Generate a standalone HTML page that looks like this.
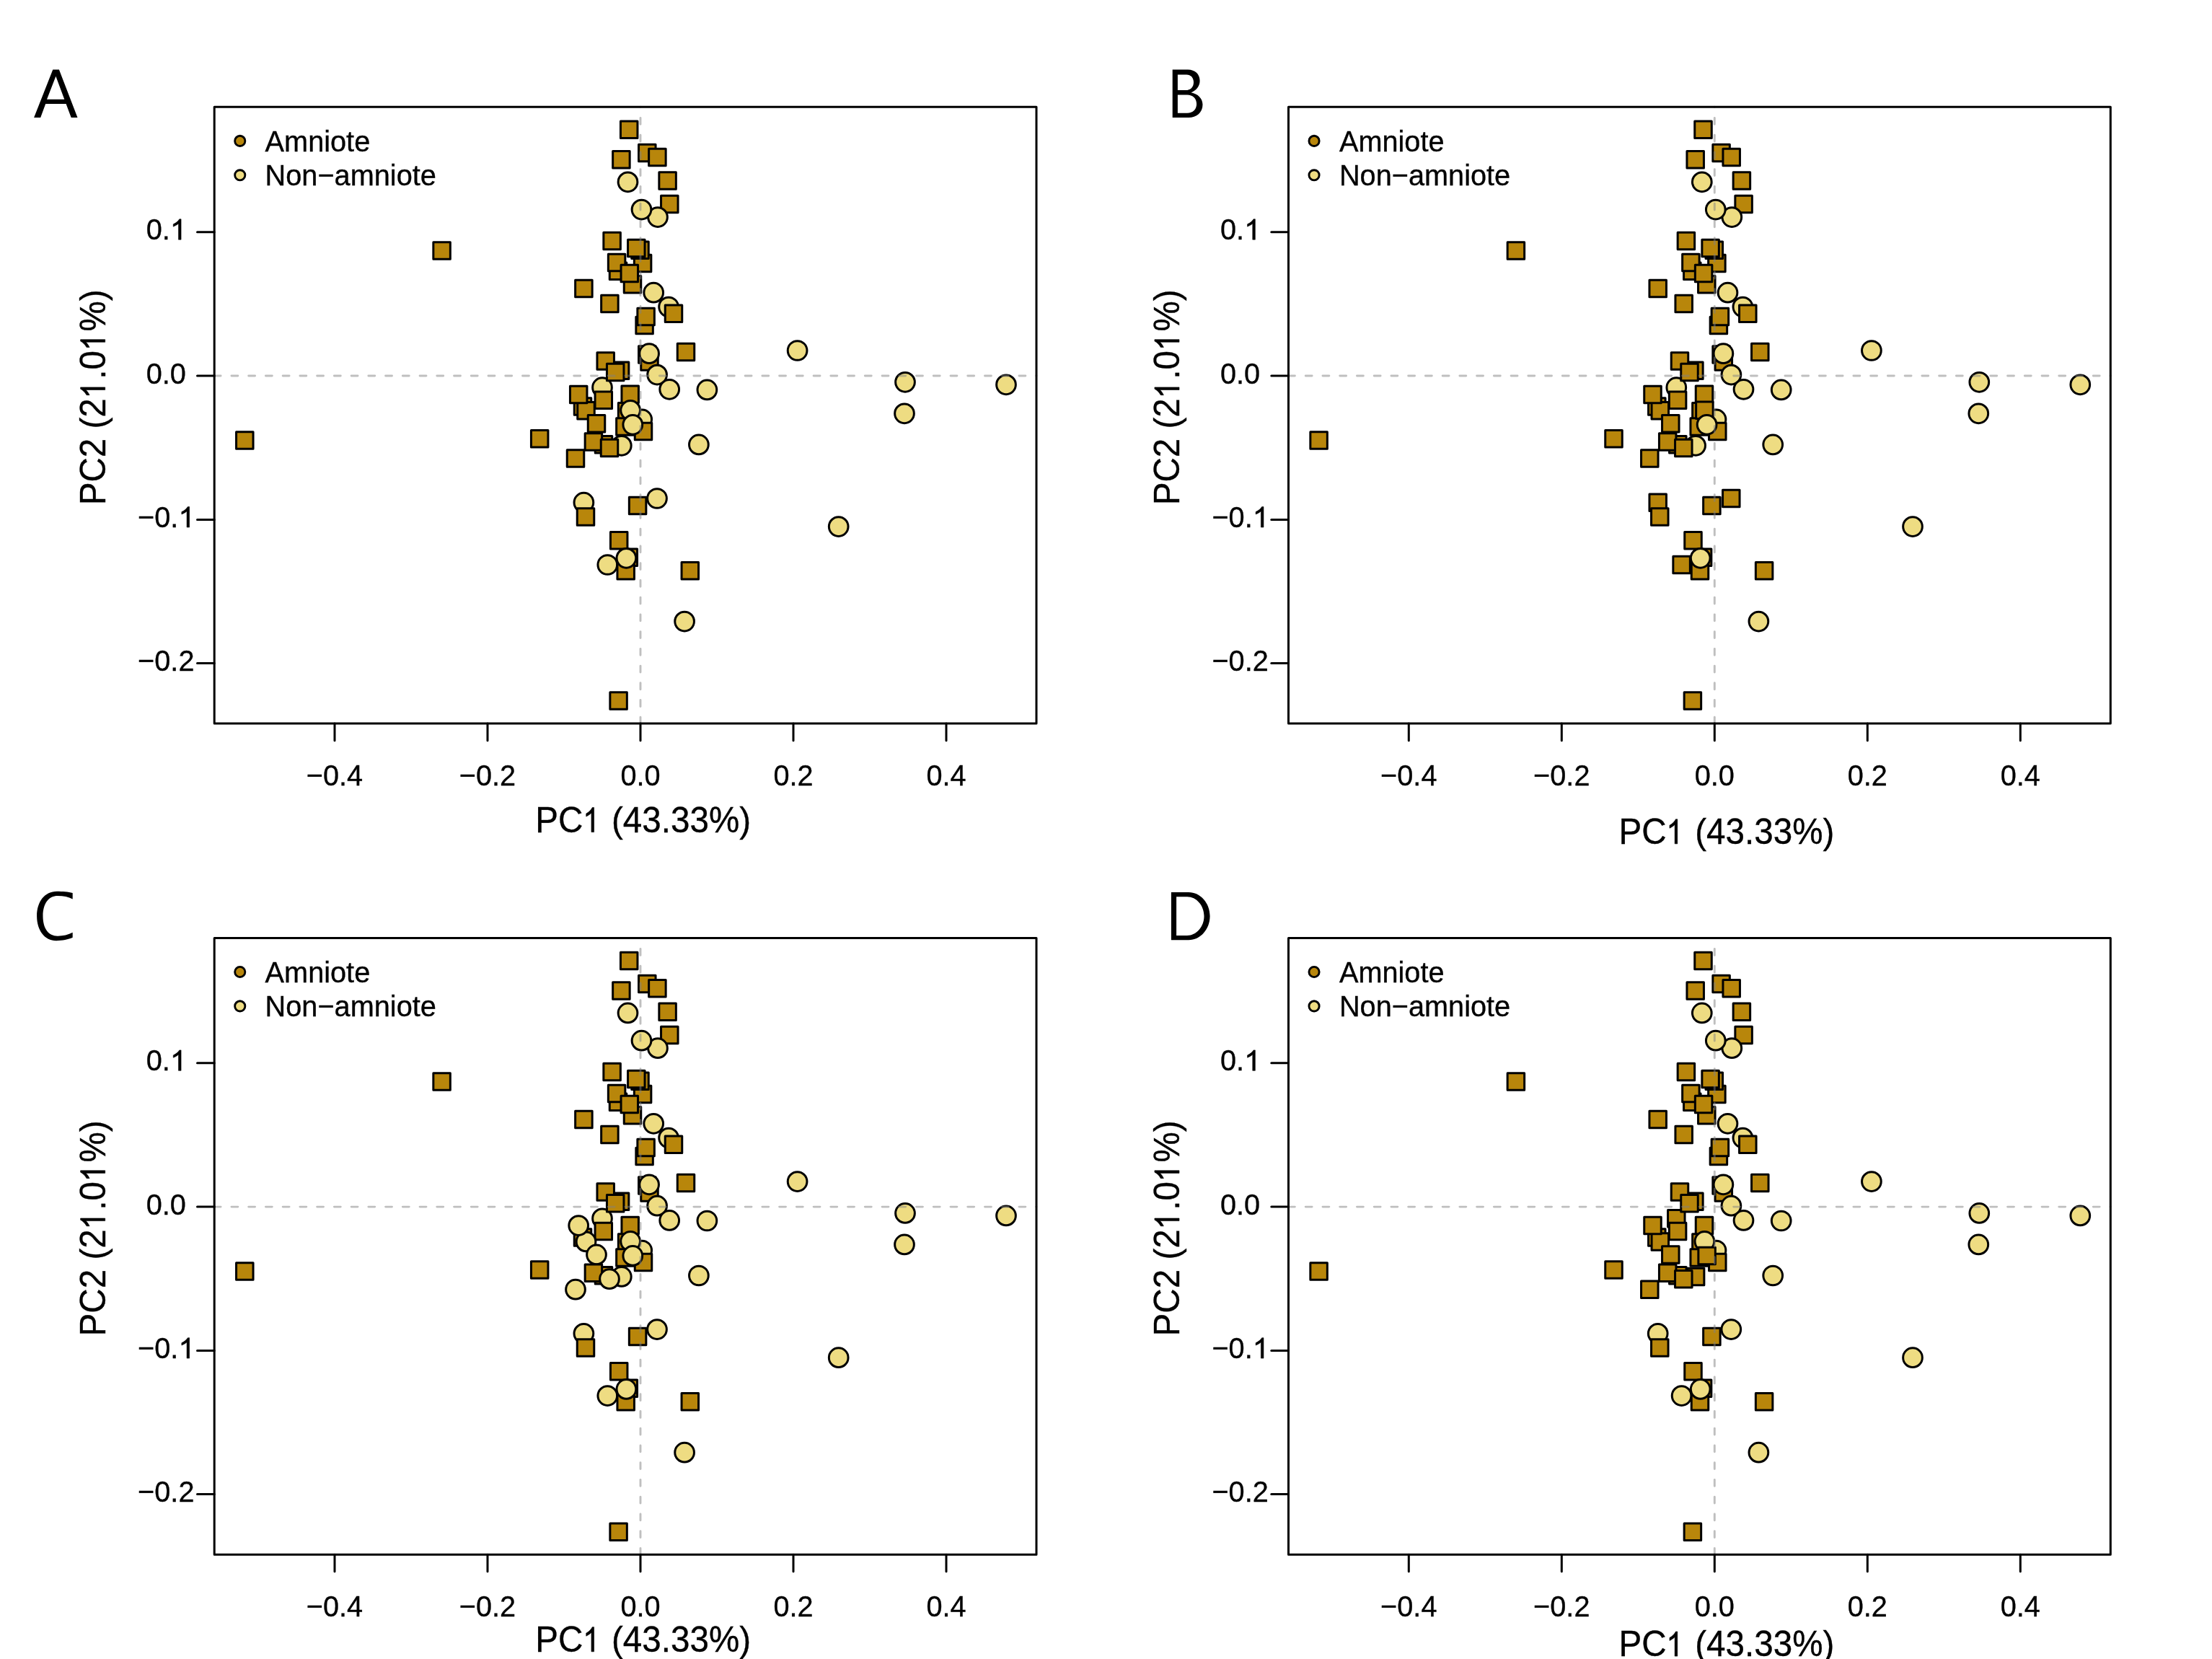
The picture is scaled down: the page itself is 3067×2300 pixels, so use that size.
<!DOCTYPE html>
<html><head><meta charset="utf-8">
<style>
html,body{margin:0;padding:0;background:#fff;}
svg{display:block;will-change:transform;}
.sq{fill:#B8860B;stroke:#000;stroke-width:3;stroke-linejoin:round;}
.ci{fill:#EEDC82;stroke:#000;stroke-width:3;}
.lg1{fill:#B8860B;stroke:#000;stroke-width:2.85;}
.lg2{fill:#EEDC82;stroke:#000;stroke-width:2.85;}
.dl{stroke:#7F7F7F;stroke-opacity:0.5;stroke-width:2.9;stroke-dasharray:8.9 14.84;stroke-linecap:round;fill:none;}
.fr{fill:none;stroke:#000;stroke-width:3;stroke-linejoin:round;}
.tk{stroke:#000;stroke-width:3;stroke-linecap:round;}
text{font-family:"Liberation Sans",sans-serif;fill:#000;font-kerning:none;}
path{fill:#000;}
.t1,.t2{stroke:#000;stroke-width:0.35px;}
.one{stroke:#000;stroke-width:28;}
.t1{font-size:39.7px;}
.t2{font-size:47.6px;}
.pl{font-size:100px;}
</style></head><body>
<svg width="3067" height="2300" viewBox="0 0 3067 2300">
<rect width="3067" height="2300" fill="#fff"/>
<g transform="translate(0,0)">
<rect x="860.45" y="168.05" width="23.5" height="23.5" class="sq"/>
<rect x="885.55" y="200.25" width="23.5" height="23.5" class="sq"/>
<rect x="899.65" y="206.35" width="23.5" height="23.5" class="sq"/>
<rect x="849.65" y="209.55" width="23.5" height="23.5" class="sq"/>
<circle cx="870.5" cy="252.3" r="13.35" class="ci"/>
<rect x="913.85" y="238.85" width="23.5" height="23.5" class="sq"/>
<rect x="916.55" y="271.25" width="23.5" height="23.5" class="sq"/>
<circle cx="912" cy="301.1" r="13.35" class="ci"/>
<circle cx="889.5" cy="290.6" r="13.35" class="ci"/>
<rect x="836.85" y="322.25" width="23.5" height="23.5" class="sq"/>
<rect x="879.35" y="353.25" width="23.5" height="23.5" class="sq"/>
<rect x="875.75" y="334.95" width="23.5" height="23.5" class="sq"/>
<rect x="870.55" y="332.15" width="23.5" height="23.5" class="sq"/>
<rect x="845.25" y="363.95" width="23.5" height="23.5" class="sq"/>
<rect x="843.35" y="352.15" width="23.5" height="23.5" class="sq"/>
<rect x="865.25" y="382.45" width="23.5" height="23.5" class="sq"/>
<rect x="861.05" y="367.25" width="23.5" height="23.5" class="sq"/>
<rect x="797.65" y="388.25" width="23.5" height="23.5" class="sq"/>
<rect x="833.65" y="409.25" width="23.5" height="23.5" class="sq"/>
<circle cx="927.1" cy="425.5" r="13.35" class="ci"/>
<circle cx="906.2" cy="405.7" r="13.35" class="ci"/>
<rect x="922.25" y="422.95" width="23.5" height="23.5" class="sq"/>
<rect x="881.85" y="439.25" width="23.5" height="23.5" class="sq"/>
<rect x="883.85" y="427.15" width="23.5" height="23.5" class="sq"/>
<rect x="939.25" y="476.25" width="23.5" height="23.5" class="sq"/>
<rect x="885.55" y="479.65" width="23.5" height="23.5" class="sq"/>
<rect x="888.75" y="489.75" width="23.5" height="23.5" class="sq"/>
<circle cx="900.1" cy="490.2" r="13.35" class="ci"/>
<circle cx="911.1" cy="519.6" r="13.35" class="ci"/>
<rect x="848.35" y="501.95" width="23.5" height="23.5" class="sq"/>
<rect x="827.95" y="488.65" width="23.5" height="23.5" class="sq"/>
<circle cx="835" cy="537.2" r="13.35" class="ci"/>
<rect x="841.45" y="504.35" width="23.5" height="23.5" class="sq"/>
<rect x="825.05" y="543.05" width="23.5" height="23.5" class="sq"/>
<rect x="796.25" y="551.75" width="23.5" height="23.5" class="sq"/>
<rect x="800.75" y="557.55" width="23.5" height="23.5" class="sq"/>
<rect x="790.45" y="535.25" width="23.5" height="23.5" class="sq"/>
<rect x="815.25" y="575.55" width="23.5" height="23.5" class="sq"/>
<rect x="825.25" y="604.45" width="23.5" height="23.5" class="sq"/>
<rect x="811.15" y="600.85" width="23.5" height="23.5" class="sq"/>
<circle cx="861.8" cy="617.8" r="13.35" class="ci"/>
<rect x="833.25" y="609.35" width="23.5" height="23.5" class="sq"/>
<rect x="786.25" y="623.85" width="23.5" height="23.5" class="sq"/>
<rect x="857.35" y="558.55" width="23.5" height="23.5" class="sq"/>
<rect x="861.95" y="535.05" width="23.5" height="23.5" class="sq"/>
<rect x="854.65" y="579.75" width="23.5" height="23.5" class="sq"/>
<circle cx="890.2" cy="581.4" r="13.35" class="ci"/>
<rect x="880.25" y="586.25" width="23.5" height="23.5" class="sq"/>
<circle cx="874.1" cy="568.8" r="13.35" class="ci"/>
<circle cx="877.3" cy="588.8" r="13.35" class="ci"/>
<circle cx="928.2" cy="539.8" r="13.35" class="ci"/>
<circle cx="980.4" cy="540.4" r="13.35" class="ci"/>
<circle cx="968.9" cy="616.4" r="13.35" class="ci"/>
<circle cx="809.4" cy="696.7" r="13.35" class="ci"/>
<rect x="800.25" y="704.65" width="23.5" height="23.5" class="sq"/>
<rect x="872.35" y="689.25" width="23.5" height="23.5" class="sq"/>
<circle cx="911" cy="691" r="13.35" class="ci"/>
<rect x="860.05" y="760.95" width="23.5" height="23.5" class="sq"/>
<rect x="846.45" y="737.45" width="23.5" height="23.5" class="sq"/>
<circle cx="842.3" cy="783" r="13.35" class="ci"/>
<rect x="855.95" y="779.45" width="23.5" height="23.5" class="sq"/>
<circle cx="868.4" cy="773.8" r="13.35" class="ci"/>
<rect x="945.05" y="779.45" width="23.5" height="23.5" class="sq"/>
<circle cx="949.1" cy="861.6" r="13.35" class="ci"/>
<rect x="845.85" y="959.85" width="23.5" height="23.5" class="sq"/>
<rect x="600.85" y="335.75" width="23.5" height="23.5" class="sq"/>
<rect x="327.55" y="598.65" width="23.5" height="23.5" class="sq"/>
<rect x="736.45" y="596.55" width="23.5" height="23.5" class="sq"/>
<circle cx="1105.6" cy="486" r="13.35" class="ci"/>
<circle cx="1255" cy="529.8" r="13.35" class="ci"/>
<circle cx="1395" cy="533.3" r="13.35" class="ci"/>
<circle cx="1254" cy="573.3" r="13.35" class="ci"/>
<circle cx="1162.7" cy="730.1" r="13.35" class="ci"/>
<line x1="297.2" y1="521" x2="1437" y2="521" class="dl"/>
<line x1="888" y1="1003.2" x2="888" y2="148.3" class="dl"/>
<rect x="297.2" y="148.3" width="1139.8" height="854.8" class="fr"/>
<line x1="464" y1="1003.1" x2="464" y2="1026.7" class="tk"/>
<line x1="676" y1="1003.1" x2="676" y2="1026.7" class="tk"/>
<line x1="888" y1="1003.1" x2="888" y2="1026.7" class="tk"/>
<line x1="1100" y1="1003.1" x2="1100" y2="1026.7" class="tk"/>
<line x1="1312" y1="1003.1" x2="1312" y2="1026.7" class="tk"/>
<line x1="273.5" y1="321.7" x2="297.2" y2="321.7" class="tk"/>
<line x1="273.5" y1="521" x2="297.2" y2="521" class="tk"/>
<line x1="273.5" y1="720.5" x2="297.2" y2="720.5" class="tk"/>
<line x1="273.5" y1="919.4" x2="297.2" y2="919.4" class="tk"/>
<g transform="matrix(1.0000 0.0000 0.0000 1.0410 464 1089)"><text x="-39.19" y="0" class="t1">−0.4</text></g>
<g transform="matrix(1.0000 0.0000 0.0000 1.0410 676 1089)"><text x="-39.19" y="0" class="t1">−0.2</text></g>
<g transform="matrix(1.0000 0.0000 0.0000 1.0410 888 1089)"><text x="-27.59" y="0" class="t1">0.0</text></g>
<g transform="matrix(1.0000 0.0000 0.0000 1.0410 1100 1089)"><text x="-27.59" y="0" class="t1">0.2</text></g>
<g transform="matrix(1.0000 0.0000 0.0000 1.0410 1312 1089)"><text x="-27.59" y="0" class="t1">0.4</text></g>
<g transform="matrix(1.0000 0.0000 0.0000 1.0410 230.3 332.2)"><text x="-27.59" y="0" class="t1">0.<tspan style="fill:none;stroke:none">1</tspan></text><path class="one" d="M763 0H583V1147Q518 1085 412 1023T222 930V1104Q373 1175 486 1276T646 1466H763Z" transform="matrix(0.02 0 0 -0.018621 5.51 0)"/></g>
<g transform="matrix(1.0000 0.0000 0.0000 1.0410 230.3 531.5)"><text x="-27.59" y="0" class="t1">0.0</text></g>
<g transform="matrix(1.0000 0.0000 0.0000 1.0410 230.3 731)"><text x="-39.19" y="0" class="t1">−0.<tspan style="fill:none;stroke:none">1</tspan></text><path class="one" d="M763 0H583V1147Q518 1085 412 1023T222 930V1104Q373 1175 486 1276T646 1466H763Z" transform="matrix(0.02 0 0 -0.018621 17.11 0)"/></g>
<g transform="matrix(1.0000 0.0000 0.0000 1.0410 230.3 929.9)"><text x="-39.19" y="0" class="t1">−0.2</text></g>
<circle cx="332.75" cy="195.4" r="7.1" class="lg1"/>
<circle cx="332.75" cy="242.8" r="7.1" class="lg2"/>
<text transform="matrix(1 0 0 1.04 367.6 209.9)" class="t1">Amniote</text>
<text transform="matrix(1 0 0 1.04 367.6 257.3)" class="t1">Non−amniote</text>
<g transform="matrix(0.0000 -1.0000 1.0410 0.0000 145.7 700.3)"><text x="0" y="0" class="t2">PC2 (2<tspan style="fill:none;stroke:none">1</tspan>.0<tspan style="fill:none;stroke:none">1</tspan>%)</text><path class="one" d="M763 0H583V1147Q518 1085 412 1023T222 930V1104Q373 1175 486 1276T646 1466H763Z" transform="matrix(0.02 0 0 -0.022327 148.15 0)"/><path class="one" d="M763 0H583V1147Q518 1085 412 1023T222 930V1104Q373 1175 486 1276T646 1466H763Z" transform="matrix(0.02 0 0 -0.022327 214.32 0)"/></g>
</g>
<g transform="matrix(1.0000 0.0000 0.0000 1.0410 742.2 1153.6)"><text x="0" y="0" class="t2">PC<tspan style="fill:none;stroke:none">1</tspan> (43.33%)</text><path class="one" d="M763 0H583V1147Q518 1085 412 1023T222 930V1104Q373 1175 486 1276T646 1466H763Z" transform="matrix(0.02 0 0 -0.022327 66.12 0)"/></g>
<g transform="translate(1489.3,0)">
<rect x="860.45" y="168.05" width="23.5" height="23.5" class="sq"/>
<rect x="885.55" y="200.25" width="23.5" height="23.5" class="sq"/>
<rect x="899.65" y="206.35" width="23.5" height="23.5" class="sq"/>
<rect x="849.65" y="209.55" width="23.5" height="23.5" class="sq"/>
<circle cx="870.5" cy="252.3" r="13.35" class="ci"/>
<rect x="913.85" y="238.85" width="23.5" height="23.5" class="sq"/>
<rect x="916.55" y="271.25" width="23.5" height="23.5" class="sq"/>
<circle cx="912" cy="301.1" r="13.35" class="ci"/>
<circle cx="889.5" cy="290.6" r="13.35" class="ci"/>
<rect x="836.85" y="322.25" width="23.5" height="23.5" class="sq"/>
<rect x="879.35" y="353.25" width="23.5" height="23.5" class="sq"/>
<rect x="875.75" y="334.95" width="23.5" height="23.5" class="sq"/>
<rect x="870.55" y="332.15" width="23.5" height="23.5" class="sq"/>
<rect x="845.25" y="363.95" width="23.5" height="23.5" class="sq"/>
<rect x="843.35" y="352.15" width="23.5" height="23.5" class="sq"/>
<rect x="865.25" y="382.45" width="23.5" height="23.5" class="sq"/>
<rect x="861.05" y="367.25" width="23.5" height="23.5" class="sq"/>
<rect x="797.65" y="388.25" width="23.5" height="23.5" class="sq"/>
<rect x="833.65" y="409.25" width="23.5" height="23.5" class="sq"/>
<circle cx="927.1" cy="425.5" r="13.35" class="ci"/>
<circle cx="906.2" cy="405.7" r="13.35" class="ci"/>
<rect x="922.25" y="422.95" width="23.5" height="23.5" class="sq"/>
<rect x="881.85" y="439.25" width="23.5" height="23.5" class="sq"/>
<rect x="883.85" y="427.15" width="23.5" height="23.5" class="sq"/>
<rect x="939.25" y="476.25" width="23.5" height="23.5" class="sq"/>
<rect x="885.55" y="479.65" width="23.5" height="23.5" class="sq"/>
<rect x="888.75" y="489.75" width="23.5" height="23.5" class="sq"/>
<circle cx="900.1" cy="490.2" r="13.35" class="ci"/>
<circle cx="911.1" cy="519.6" r="13.35" class="ci"/>
<rect x="848.35" y="501.95" width="23.5" height="23.5" class="sq"/>
<rect x="827.95" y="488.65" width="23.5" height="23.5" class="sq"/>
<circle cx="835" cy="537.2" r="13.35" class="ci"/>
<rect x="841.45" y="504.35" width="23.5" height="23.5" class="sq"/>
<rect x="825.05" y="543.05" width="23.5" height="23.5" class="sq"/>
<rect x="796.25" y="551.75" width="23.5" height="23.5" class="sq"/>
<rect x="800.75" y="557.55" width="23.5" height="23.5" class="sq"/>
<rect x="790.45" y="535.25" width="23.5" height="23.5" class="sq"/>
<rect x="815.25" y="575.55" width="23.5" height="23.5" class="sq"/>
<rect x="825.25" y="604.45" width="23.5" height="23.5" class="sq"/>
<rect x="811.15" y="600.85" width="23.5" height="23.5" class="sq"/>
<circle cx="861.8" cy="617.8" r="13.35" class="ci"/>
<rect x="833.25" y="609.35" width="23.5" height="23.5" class="sq"/>
<rect x="786.25" y="623.85" width="23.5" height="23.5" class="sq"/>
<rect x="857.35" y="558.55" width="23.5" height="23.5" class="sq"/>
<rect x="861.95" y="535.05" width="23.5" height="23.5" class="sq"/>
<rect x="854.65" y="579.75" width="23.5" height="23.5" class="sq"/>
<circle cx="890.2" cy="581.4" r="13.35" class="ci"/>
<rect x="880.25" y="586.25" width="23.5" height="23.5" class="sq"/>
<rect x="862.35" y="557.05" width="23.5" height="23.5" class="sq"/>
<circle cx="877.3" cy="588.8" r="13.35" class="ci"/>
<circle cx="928.2" cy="539.8" r="13.35" class="ci"/>
<circle cx="980.4" cy="540.4" r="13.35" class="ci"/>
<circle cx="968.9" cy="616.4" r="13.35" class="ci"/>
<rect x="797.65" y="684.95" width="23.5" height="23.5" class="sq"/>
<rect x="800.25" y="704.65" width="23.5" height="23.5" class="sq"/>
<rect x="872.35" y="689.25" width="23.5" height="23.5" class="sq"/>
<rect x="899.25" y="679.25" width="23.5" height="23.5" class="sq"/>
<rect x="860.05" y="760.95" width="23.5" height="23.5" class="sq"/>
<rect x="846.45" y="737.45" width="23.5" height="23.5" class="sq"/>
<rect x="830.55" y="771.25" width="23.5" height="23.5" class="sq"/>
<rect x="855.95" y="779.45" width="23.5" height="23.5" class="sq"/>
<circle cx="868.4" cy="773.8" r="13.35" class="ci"/>
<rect x="945.05" y="779.45" width="23.5" height="23.5" class="sq"/>
<circle cx="949.1" cy="861.6" r="13.35" class="ci"/>
<rect x="845.85" y="959.85" width="23.5" height="23.5" class="sq"/>
<rect x="600.85" y="335.75" width="23.5" height="23.5" class="sq"/>
<rect x="327.55" y="598.65" width="23.5" height="23.5" class="sq"/>
<rect x="736.45" y="596.55" width="23.5" height="23.5" class="sq"/>
<circle cx="1105.6" cy="486" r="13.35" class="ci"/>
<circle cx="1255" cy="529.8" r="13.35" class="ci"/>
<circle cx="1395" cy="533.3" r="13.35" class="ci"/>
<circle cx="1254" cy="573.3" r="13.35" class="ci"/>
<circle cx="1162.7" cy="730.1" r="13.35" class="ci"/>
<line x1="297.2" y1="521" x2="1437" y2="521" class="dl"/>
<line x1="888" y1="1003.2" x2="888" y2="148.3" class="dl"/>
<rect x="297.2" y="148.3" width="1139.8" height="854.8" class="fr"/>
<line x1="464" y1="1003.1" x2="464" y2="1026.7" class="tk"/>
<line x1="676" y1="1003.1" x2="676" y2="1026.7" class="tk"/>
<line x1="888" y1="1003.1" x2="888" y2="1026.7" class="tk"/>
<line x1="1100" y1="1003.1" x2="1100" y2="1026.7" class="tk"/>
<line x1="1312" y1="1003.1" x2="1312" y2="1026.7" class="tk"/>
<line x1="273.5" y1="321.7" x2="297.2" y2="321.7" class="tk"/>
<line x1="273.5" y1="521" x2="297.2" y2="521" class="tk"/>
<line x1="273.5" y1="720.5" x2="297.2" y2="720.5" class="tk"/>
<line x1="273.5" y1="919.4" x2="297.2" y2="919.4" class="tk"/>
<g transform="matrix(1.0000 0.0000 0.0000 1.0410 464 1089)"><text x="-39.19" y="0" class="t1">−0.4</text></g>
<g transform="matrix(1.0000 0.0000 0.0000 1.0410 676 1089)"><text x="-39.19" y="0" class="t1">−0.2</text></g>
<g transform="matrix(1.0000 0.0000 0.0000 1.0410 888 1089)"><text x="-27.59" y="0" class="t1">0.0</text></g>
<g transform="matrix(1.0000 0.0000 0.0000 1.0410 1100 1089)"><text x="-27.59" y="0" class="t1">0.2</text></g>
<g transform="matrix(1.0000 0.0000 0.0000 1.0410 1312 1089)"><text x="-27.59" y="0" class="t1">0.4</text></g>
<g transform="matrix(1.0000 0.0000 0.0000 1.0410 230.3 332.2)"><text x="-27.59" y="0" class="t1">0.<tspan style="fill:none;stroke:none">1</tspan></text><path class="one" d="M763 0H583V1147Q518 1085 412 1023T222 930V1104Q373 1175 486 1276T646 1466H763Z" transform="matrix(0.02 0 0 -0.018621 5.51 0)"/></g>
<g transform="matrix(1.0000 0.0000 0.0000 1.0410 230.3 531.5)"><text x="-27.59" y="0" class="t1">0.0</text></g>
<g transform="matrix(1.0000 0.0000 0.0000 1.0410 230.3 731)"><text x="-39.19" y="0" class="t1">−0.<tspan style="fill:none;stroke:none">1</tspan></text><path class="one" d="M763 0H583V1147Q518 1085 412 1023T222 930V1104Q373 1175 486 1276T646 1466H763Z" transform="matrix(0.02 0 0 -0.018621 17.11 0)"/></g>
<g transform="matrix(1.0000 0.0000 0.0000 1.0410 230.3 929.9)"><text x="-39.19" y="0" class="t1">−0.2</text></g>
<circle cx="332.75" cy="195.4" r="7.1" class="lg1"/>
<circle cx="332.75" cy="242.8" r="7.1" class="lg2"/>
<text transform="matrix(1 0 0 1.04 367.6 209.9)" class="t1">Amniote</text>
<text transform="matrix(1 0 0 1.04 367.6 257.3)" class="t1">Non−amniote</text>
<g transform="matrix(0.0000 -1.0000 1.0410 0.0000 145.7 700.3)"><text x="0" y="0" class="t2">PC2 (2<tspan style="fill:none;stroke:none">1</tspan>.0<tspan style="fill:none;stroke:none">1</tspan>%)</text><path class="one" d="M763 0H583V1147Q518 1085 412 1023T222 930V1104Q373 1175 486 1276T646 1466H763Z" transform="matrix(0.02 0 0 -0.022327 148.15 0)"/><path class="one" d="M763 0H583V1147Q518 1085 412 1023T222 930V1104Q373 1175 486 1276T646 1466H763Z" transform="matrix(0.02 0 0 -0.022327 214.32 0)"/></g>
</g>
<g transform="matrix(1.0000 0.0000 0.0000 1.0410 2244.4 1169.8)"><text x="0" y="0" class="t2">PC<tspan style="fill:none;stroke:none">1</tspan> (43.33%)</text><path class="one" d="M763 0H583V1147Q518 1085 412 1023T222 930V1104Q373 1175 486 1276T646 1466H763Z" transform="matrix(0.02 0 0 -0.022327 66.12 0)"/></g>
<g transform="translate(0,1152.1)">
<rect x="860.45" y="168.05" width="23.5" height="23.5" class="sq"/>
<rect x="885.55" y="200.25" width="23.5" height="23.5" class="sq"/>
<rect x="899.65" y="206.35" width="23.5" height="23.5" class="sq"/>
<rect x="849.65" y="209.55" width="23.5" height="23.5" class="sq"/>
<circle cx="870.5" cy="252.3" r="13.35" class="ci"/>
<rect x="913.85" y="238.85" width="23.5" height="23.5" class="sq"/>
<rect x="916.55" y="271.25" width="23.5" height="23.5" class="sq"/>
<circle cx="912" cy="301.1" r="13.35" class="ci"/>
<circle cx="889.5" cy="290.6" r="13.35" class="ci"/>
<rect x="836.85" y="322.25" width="23.5" height="23.5" class="sq"/>
<rect x="879.35" y="353.25" width="23.5" height="23.5" class="sq"/>
<rect x="875.75" y="334.95" width="23.5" height="23.5" class="sq"/>
<rect x="870.55" y="332.15" width="23.5" height="23.5" class="sq"/>
<rect x="845.25" y="363.95" width="23.5" height="23.5" class="sq"/>
<rect x="843.35" y="352.15" width="23.5" height="23.5" class="sq"/>
<rect x="865.25" y="382.45" width="23.5" height="23.5" class="sq"/>
<rect x="861.05" y="367.25" width="23.5" height="23.5" class="sq"/>
<rect x="797.65" y="388.25" width="23.5" height="23.5" class="sq"/>
<rect x="833.65" y="409.25" width="23.5" height="23.5" class="sq"/>
<circle cx="927.1" cy="425.5" r="13.35" class="ci"/>
<circle cx="906.2" cy="405.7" r="13.35" class="ci"/>
<rect x="922.25" y="422.95" width="23.5" height="23.5" class="sq"/>
<rect x="881.85" y="439.25" width="23.5" height="23.5" class="sq"/>
<rect x="883.85" y="427.15" width="23.5" height="23.5" class="sq"/>
<rect x="939.25" y="476.25" width="23.5" height="23.5" class="sq"/>
<rect x="885.55" y="479.65" width="23.5" height="23.5" class="sq"/>
<rect x="888.75" y="489.75" width="23.5" height="23.5" class="sq"/>
<circle cx="900.1" cy="490.2" r="13.35" class="ci"/>
<circle cx="911.1" cy="519.6" r="13.35" class="ci"/>
<rect x="848.35" y="501.95" width="23.5" height="23.5" class="sq"/>
<rect x="827.95" y="488.65" width="23.5" height="23.5" class="sq"/>
<circle cx="835" cy="537.2" r="13.35" class="ci"/>
<rect x="841.45" y="504.35" width="23.5" height="23.5" class="sq"/>
<rect x="825.05" y="543.05" width="23.5" height="23.5" class="sq"/>
<rect x="796.25" y="551.75" width="23.5" height="23.5" class="sq"/>
<circle cx="812.5" cy="569.3" r="13.35" class="ci"/>
<circle cx="802.2" cy="547" r="13.35" class="ci"/>
<circle cx="827" cy="587.3" r="13.35" class="ci"/>
<rect x="825.25" y="604.45" width="23.5" height="23.5" class="sq"/>
<rect x="811.15" y="600.85" width="23.5" height="23.5" class="sq"/>
<circle cx="861.8" cy="617.8" r="13.35" class="ci"/>
<circle cx="845" cy="621.1" r="13.35" class="ci"/>
<circle cx="798" cy="635.6" r="13.35" class="ci"/>
<rect x="857.35" y="558.55" width="23.5" height="23.5" class="sq"/>
<rect x="861.95" y="535.05" width="23.5" height="23.5" class="sq"/>
<rect x="854.65" y="579.75" width="23.5" height="23.5" class="sq"/>
<circle cx="890.2" cy="581.4" r="13.35" class="ci"/>
<rect x="880.25" y="586.25" width="23.5" height="23.5" class="sq"/>
<circle cx="874.1" cy="568.8" r="13.35" class="ci"/>
<circle cx="877.3" cy="588.8" r="13.35" class="ci"/>
<circle cx="928.2" cy="539.8" r="13.35" class="ci"/>
<circle cx="980.4" cy="540.4" r="13.35" class="ci"/>
<circle cx="968.9" cy="616.4" r="13.35" class="ci"/>
<circle cx="809.4" cy="696.7" r="13.35" class="ci"/>
<rect x="800.25" y="704.65" width="23.5" height="23.5" class="sq"/>
<rect x="872.35" y="689.25" width="23.5" height="23.5" class="sq"/>
<circle cx="911" cy="691" r="13.35" class="ci"/>
<rect x="860.05" y="760.95" width="23.5" height="23.5" class="sq"/>
<rect x="846.45" y="737.45" width="23.5" height="23.5" class="sq"/>
<circle cx="842.3" cy="783" r="13.35" class="ci"/>
<rect x="855.95" y="779.45" width="23.5" height="23.5" class="sq"/>
<circle cx="868.4" cy="773.8" r="13.35" class="ci"/>
<rect x="945.05" y="779.45" width="23.5" height="23.5" class="sq"/>
<circle cx="949.1" cy="861.6" r="13.35" class="ci"/>
<rect x="845.85" y="959.85" width="23.5" height="23.5" class="sq"/>
<rect x="600.85" y="335.75" width="23.5" height="23.5" class="sq"/>
<rect x="327.55" y="598.65" width="23.5" height="23.5" class="sq"/>
<rect x="736.45" y="596.55" width="23.5" height="23.5" class="sq"/>
<circle cx="1105.6" cy="486" r="13.35" class="ci"/>
<circle cx="1255" cy="529.8" r="13.35" class="ci"/>
<circle cx="1395" cy="533.3" r="13.35" class="ci"/>
<circle cx="1254" cy="573.3" r="13.35" class="ci"/>
<circle cx="1162.7" cy="730.1" r="13.35" class="ci"/>
<line x1="297.2" y1="521" x2="1437" y2="521" class="dl"/>
<line x1="888" y1="1003.2" x2="888" y2="148.3" class="dl"/>
<rect x="297.2" y="148.3" width="1139.8" height="854.8" class="fr"/>
<line x1="464" y1="1003.1" x2="464" y2="1026.7" class="tk"/>
<line x1="676" y1="1003.1" x2="676" y2="1026.7" class="tk"/>
<line x1="888" y1="1003.1" x2="888" y2="1026.7" class="tk"/>
<line x1="1100" y1="1003.1" x2="1100" y2="1026.7" class="tk"/>
<line x1="1312" y1="1003.1" x2="1312" y2="1026.7" class="tk"/>
<line x1="273.5" y1="321.7" x2="297.2" y2="321.7" class="tk"/>
<line x1="273.5" y1="521" x2="297.2" y2="521" class="tk"/>
<line x1="273.5" y1="720.5" x2="297.2" y2="720.5" class="tk"/>
<line x1="273.5" y1="919.4" x2="297.2" y2="919.4" class="tk"/>
<g transform="matrix(1.0000 0.0000 0.0000 1.0410 464 1089)"><text x="-39.19" y="0" class="t1">−0.4</text></g>
<g transform="matrix(1.0000 0.0000 0.0000 1.0410 676 1089)"><text x="-39.19" y="0" class="t1">−0.2</text></g>
<g transform="matrix(1.0000 0.0000 0.0000 1.0410 888 1089)"><text x="-27.59" y="0" class="t1">0.0</text></g>
<g transform="matrix(1.0000 0.0000 0.0000 1.0410 1100 1089)"><text x="-27.59" y="0" class="t1">0.2</text></g>
<g transform="matrix(1.0000 0.0000 0.0000 1.0410 1312 1089)"><text x="-27.59" y="0" class="t1">0.4</text></g>
<g transform="matrix(1.0000 0.0000 0.0000 1.0410 230.3 332.2)"><text x="-27.59" y="0" class="t1">0.<tspan style="fill:none;stroke:none">1</tspan></text><path class="one" d="M763 0H583V1147Q518 1085 412 1023T222 930V1104Q373 1175 486 1276T646 1466H763Z" transform="matrix(0.02 0 0 -0.018621 5.51 0)"/></g>
<g transform="matrix(1.0000 0.0000 0.0000 1.0410 230.3 531.5)"><text x="-27.59" y="0" class="t1">0.0</text></g>
<g transform="matrix(1.0000 0.0000 0.0000 1.0410 230.3 731)"><text x="-39.19" y="0" class="t1">−0.<tspan style="fill:none;stroke:none">1</tspan></text><path class="one" d="M763 0H583V1147Q518 1085 412 1023T222 930V1104Q373 1175 486 1276T646 1466H763Z" transform="matrix(0.02 0 0 -0.018621 17.11 0)"/></g>
<g transform="matrix(1.0000 0.0000 0.0000 1.0410 230.3 929.9)"><text x="-39.19" y="0" class="t1">−0.2</text></g>
<circle cx="332.75" cy="195.4" r="7.1" class="lg1"/>
<circle cx="332.75" cy="242.8" r="7.1" class="lg2"/>
<text transform="matrix(1 0 0 1.04 367.6 209.9)" class="t1">Amniote</text>
<text transform="matrix(1 0 0 1.04 367.6 257.3)" class="t1">Non−amniote</text>
<g transform="matrix(0.0000 -1.0000 1.0410 0.0000 145.7 700.3)"><text x="0" y="0" class="t2">PC2 (2<tspan style="fill:none;stroke:none">1</tspan>.0<tspan style="fill:none;stroke:none">1</tspan>%)</text><path class="one" d="M763 0H583V1147Q518 1085 412 1023T222 930V1104Q373 1175 486 1276T646 1466H763Z" transform="matrix(0.02 0 0 -0.022327 148.15 0)"/><path class="one" d="M763 0H583V1147Q518 1085 412 1023T222 930V1104Q373 1175 486 1276T646 1466H763Z" transform="matrix(0.02 0 0 -0.022327 214.32 0)"/></g>
</g>
<g transform="matrix(1.0000 0.0000 0.0000 1.0410 742.2 2289.8)"><text x="0" y="0" class="t2">PC<tspan style="fill:none;stroke:none">1</tspan> (43.33%)</text><path class="one" d="M763 0H583V1147Q518 1085 412 1023T222 930V1104Q373 1175 486 1276T646 1466H763Z" transform="matrix(0.02 0 0 -0.022327 66.12 0)"/></g>
<g transform="translate(1489.3,1152.1)">
<rect x="860.45" y="168.05" width="23.5" height="23.5" class="sq"/>
<rect x="885.55" y="200.25" width="23.5" height="23.5" class="sq"/>
<rect x="899.65" y="206.35" width="23.5" height="23.5" class="sq"/>
<rect x="849.65" y="209.55" width="23.5" height="23.5" class="sq"/>
<circle cx="870.5" cy="252.3" r="13.35" class="ci"/>
<rect x="913.85" y="238.85" width="23.5" height="23.5" class="sq"/>
<rect x="916.55" y="271.25" width="23.5" height="23.5" class="sq"/>
<circle cx="912" cy="301.1" r="13.35" class="ci"/>
<circle cx="889.5" cy="290.6" r="13.35" class="ci"/>
<rect x="836.85" y="322.25" width="23.5" height="23.5" class="sq"/>
<rect x="879.35" y="353.25" width="23.5" height="23.5" class="sq"/>
<rect x="875.75" y="334.95" width="23.5" height="23.5" class="sq"/>
<rect x="870.55" y="332.15" width="23.5" height="23.5" class="sq"/>
<rect x="845.25" y="363.95" width="23.5" height="23.5" class="sq"/>
<rect x="843.35" y="352.15" width="23.5" height="23.5" class="sq"/>
<rect x="865.25" y="382.45" width="23.5" height="23.5" class="sq"/>
<rect x="861.05" y="367.25" width="23.5" height="23.5" class="sq"/>
<rect x="797.65" y="388.25" width="23.5" height="23.5" class="sq"/>
<rect x="833.65" y="409.25" width="23.5" height="23.5" class="sq"/>
<circle cx="927.1" cy="425.5" r="13.35" class="ci"/>
<circle cx="906.2" cy="405.7" r="13.35" class="ci"/>
<rect x="922.25" y="422.95" width="23.5" height="23.5" class="sq"/>
<rect x="881.85" y="439.25" width="23.5" height="23.5" class="sq"/>
<rect x="883.85" y="427.15" width="23.5" height="23.5" class="sq"/>
<rect x="939.25" y="476.25" width="23.5" height="23.5" class="sq"/>
<rect x="885.55" y="479.65" width="23.5" height="23.5" class="sq"/>
<rect x="888.75" y="489.75" width="23.5" height="23.5" class="sq"/>
<circle cx="900.1" cy="490.2" r="13.35" class="ci"/>
<circle cx="911.1" cy="519.6" r="13.35" class="ci"/>
<rect x="848.35" y="501.95" width="23.5" height="23.5" class="sq"/>
<rect x="827.95" y="488.65" width="23.5" height="23.5" class="sq"/>
<rect x="823.25" y="525.45" width="23.5" height="23.5" class="sq"/>
<rect x="841.45" y="504.35" width="23.5" height="23.5" class="sq"/>
<rect x="825.05" y="543.05" width="23.5" height="23.5" class="sq"/>
<rect x="796.25" y="551.75" width="23.5" height="23.5" class="sq"/>
<rect x="800.75" y="557.55" width="23.5" height="23.5" class="sq"/>
<rect x="790.45" y="535.25" width="23.5" height="23.5" class="sq"/>
<rect x="815.25" y="575.55" width="23.5" height="23.5" class="sq"/>
<rect x="825.25" y="604.45" width="23.5" height="23.5" class="sq"/>
<rect x="811.15" y="600.85" width="23.5" height="23.5" class="sq"/>
<rect x="850.05" y="606.05" width="23.5" height="23.5" class="sq"/>
<rect x="833.25" y="609.35" width="23.5" height="23.5" class="sq"/>
<rect x="786.25" y="623.85" width="23.5" height="23.5" class="sq"/>
<rect x="857.35" y="558.55" width="23.5" height="23.5" class="sq"/>
<rect x="861.95" y="535.05" width="23.5" height="23.5" class="sq"/>
<rect x="854.65" y="579.75" width="23.5" height="23.5" class="sq"/>
<circle cx="890.2" cy="581.4" r="13.35" class="ci"/>
<rect x="880.25" y="586.25" width="23.5" height="23.5" class="sq"/>
<circle cx="874.1" cy="568.8" r="13.35" class="ci"/>
<rect x="865.55" y="577.05" width="23.5" height="23.5" class="sq"/>
<circle cx="928.2" cy="539.8" r="13.35" class="ci"/>
<circle cx="980.4" cy="540.4" r="13.35" class="ci"/>
<circle cx="968.9" cy="616.4" r="13.35" class="ci"/>
<circle cx="809.4" cy="696.7" r="13.35" class="ci"/>
<rect x="800.25" y="704.65" width="23.5" height="23.5" class="sq"/>
<rect x="872.35" y="689.25" width="23.5" height="23.5" class="sq"/>
<circle cx="911" cy="691" r="13.35" class="ci"/>
<rect x="860.05" y="760.95" width="23.5" height="23.5" class="sq"/>
<rect x="846.45" y="737.45" width="23.5" height="23.5" class="sq"/>
<circle cx="842.3" cy="783" r="13.35" class="ci"/>
<rect x="855.95" y="779.45" width="23.5" height="23.5" class="sq"/>
<circle cx="868.4" cy="773.8" r="13.35" class="ci"/>
<rect x="945.05" y="779.45" width="23.5" height="23.5" class="sq"/>
<circle cx="949.1" cy="861.6" r="13.35" class="ci"/>
<rect x="845.85" y="959.85" width="23.5" height="23.5" class="sq"/>
<rect x="600.85" y="335.75" width="23.5" height="23.5" class="sq"/>
<rect x="327.55" y="598.65" width="23.5" height="23.5" class="sq"/>
<rect x="736.45" y="596.55" width="23.5" height="23.5" class="sq"/>
<circle cx="1105.6" cy="486" r="13.35" class="ci"/>
<circle cx="1255" cy="529.8" r="13.35" class="ci"/>
<circle cx="1395" cy="533.3" r="13.35" class="ci"/>
<circle cx="1254" cy="573.3" r="13.35" class="ci"/>
<circle cx="1162.7" cy="730.1" r="13.35" class="ci"/>
<line x1="297.2" y1="521" x2="1437" y2="521" class="dl"/>
<line x1="888" y1="1003.2" x2="888" y2="148.3" class="dl"/>
<rect x="297.2" y="148.3" width="1139.8" height="854.8" class="fr"/>
<line x1="464" y1="1003.1" x2="464" y2="1026.7" class="tk"/>
<line x1="676" y1="1003.1" x2="676" y2="1026.7" class="tk"/>
<line x1="888" y1="1003.1" x2="888" y2="1026.7" class="tk"/>
<line x1="1100" y1="1003.1" x2="1100" y2="1026.7" class="tk"/>
<line x1="1312" y1="1003.1" x2="1312" y2="1026.7" class="tk"/>
<line x1="273.5" y1="321.7" x2="297.2" y2="321.7" class="tk"/>
<line x1="273.5" y1="521" x2="297.2" y2="521" class="tk"/>
<line x1="273.5" y1="720.5" x2="297.2" y2="720.5" class="tk"/>
<line x1="273.5" y1="919.4" x2="297.2" y2="919.4" class="tk"/>
<g transform="matrix(1.0000 0.0000 0.0000 1.0410 464 1089)"><text x="-39.19" y="0" class="t1">−0.4</text></g>
<g transform="matrix(1.0000 0.0000 0.0000 1.0410 676 1089)"><text x="-39.19" y="0" class="t1">−0.2</text></g>
<g transform="matrix(1.0000 0.0000 0.0000 1.0410 888 1089)"><text x="-27.59" y="0" class="t1">0.0</text></g>
<g transform="matrix(1.0000 0.0000 0.0000 1.0410 1100 1089)"><text x="-27.59" y="0" class="t1">0.2</text></g>
<g transform="matrix(1.0000 0.0000 0.0000 1.0410 1312 1089)"><text x="-27.59" y="0" class="t1">0.4</text></g>
<g transform="matrix(1.0000 0.0000 0.0000 1.0410 230.3 332.2)"><text x="-27.59" y="0" class="t1">0.<tspan style="fill:none;stroke:none">1</tspan></text><path class="one" d="M763 0H583V1147Q518 1085 412 1023T222 930V1104Q373 1175 486 1276T646 1466H763Z" transform="matrix(0.02 0 0 -0.018621 5.51 0)"/></g>
<g transform="matrix(1.0000 0.0000 0.0000 1.0410 230.3 531.5)"><text x="-27.59" y="0" class="t1">0.0</text></g>
<g transform="matrix(1.0000 0.0000 0.0000 1.0410 230.3 731)"><text x="-39.19" y="0" class="t1">−0.<tspan style="fill:none;stroke:none">1</tspan></text><path class="one" d="M763 0H583V1147Q518 1085 412 1023T222 930V1104Q373 1175 486 1276T646 1466H763Z" transform="matrix(0.02 0 0 -0.018621 17.11 0)"/></g>
<g transform="matrix(1.0000 0.0000 0.0000 1.0410 230.3 929.9)"><text x="-39.19" y="0" class="t1">−0.2</text></g>
<circle cx="332.75" cy="195.4" r="7.1" class="lg1"/>
<circle cx="332.75" cy="242.8" r="7.1" class="lg2"/>
<text transform="matrix(1 0 0 1.04 367.6 209.9)" class="t1">Amniote</text>
<text transform="matrix(1 0 0 1.04 367.6 257.3)" class="t1">Non−amniote</text>
<g transform="matrix(0.0000 -1.0000 1.0410 0.0000 145.7 700.3)"><text x="0" y="0" class="t2">PC2 (2<tspan style="fill:none;stroke:none">1</tspan>.0<tspan style="fill:none;stroke:none">1</tspan>%)</text><path class="one" d="M763 0H583V1147Q518 1085 412 1023T222 930V1104Q373 1175 486 1276T646 1466H763Z" transform="matrix(0.02 0 0 -0.022327 148.15 0)"/><path class="one" d="M763 0H583V1147Q518 1085 412 1023T222 930V1104Q373 1175 486 1276T646 1466H763Z" transform="matrix(0.02 0 0 -0.022327 214.32 0)"/></g>
</g>
<g transform="matrix(1.0000 0.0000 0.0000 1.0410 2244.4 2296.1)"><text x="0" y="0" class="t2">PC<tspan style="fill:none;stroke:none">1</tspan> (43.33%)</text><path class="one" d="M763 0H583V1147Q518 1085 412 1023T222 930V1104Q373 1175 486 1276T646 1466H763Z" transform="matrix(0.02 0 0 -0.022327 66.12 0)"/></g>
<path fill-rule="evenodd" d="M47.1 163.1L73.3 96.6H81.9L107.5 163.1H98.7L91.6 144.1H63.2L56.2 163.1ZM65 137.8H89.3L77.4 105.7Z"/>
<path fill-rule="evenodd" d="M1625.7 96.6H1647C1657 96.6 1663.6 103 1663.6 112C1663.6 120 1658 126 1651.4 128.2C1661 130 1667.5 136.5 1667.5 145C1667.5 156 1659 163.1 1648 163.1H1625.7ZM1632.9 103.4H1645C1651 103.4 1655 107.5 1655 114C1655 121 1650.5 125.1 1644 125.1H1632.9ZM1632.9 131.4H1646C1654 131.4 1659.1 136.5 1659.1 144C1659.1 152 1654 156.7 1646 156.7H1632.9Z"/>
<path fill-rule="evenodd" d="M100.7 1238C95 1236.5 86 1235.8 79 1235.8C62 1235.8 51.1 1250 51.1 1270C51.1 1290 62 1304.2 78 1304.2C86 1304.2 95 1302.5 100.7 1299.8V1292.8C95 1296 87 1297.7 80 1297.7C67 1297.7 59.5 1287 59.5 1270C59.5 1252 68 1242.1 80 1242.1C88 1242.1 95 1243.5 100.7 1246.4Z"/>
<path fill-rule="evenodd" d="M1623.9 1236.9H1648C1664.3 1236.9 1677.6 1251.8 1677.6 1270C1677.6 1288.2 1664.3 1303.3 1648 1303.3H1623.9ZM1631.1 1243.2H1646C1658.9 1243.2 1669.5 1255.3 1669.5 1270C1669.5 1284.7 1658.9 1297 1646 1297H1631.1Z"/>
</svg>
</body></html>
